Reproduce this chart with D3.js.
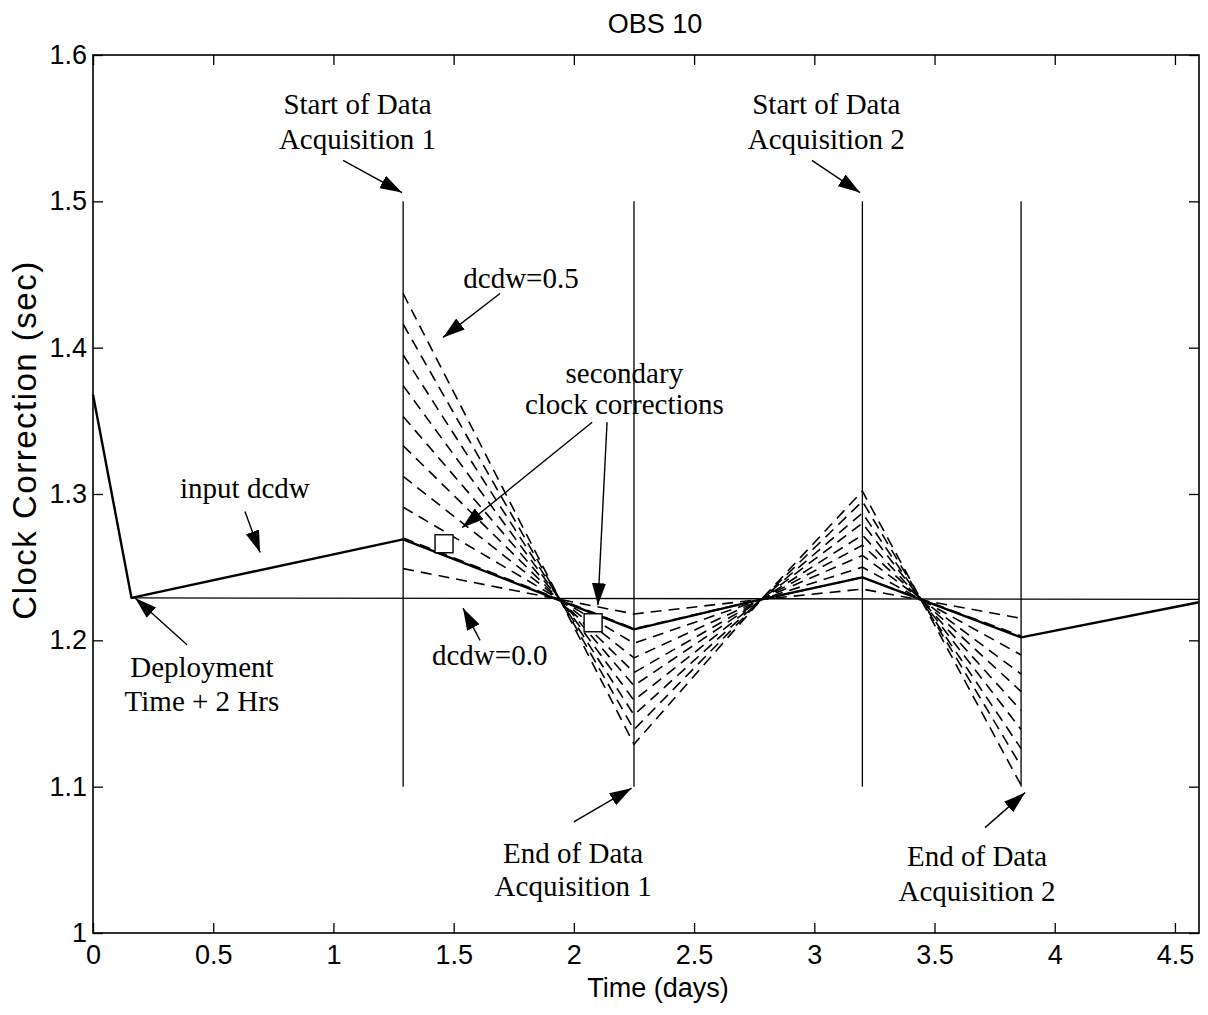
<!DOCTYPE html>
<html>
<head>
<meta charset="utf-8">
<script src="https://cdn.jsdelivr.net/npm/d3@7"></script>
<style>
  body { margin: 0; background: #fff; }
  svg { display: block; }
  .axis text { font-family: "Liberation Sans", Arial, sans-serif; font-size: 27px; fill: #000; }
  .axis line { stroke: #000; stroke-width: 1.3; }
  .axis path { display: none; }
  .note { font-family: "Liberation Serif", "Times New Roman", serif; font-size: 29px; fill: #000; }
</style>
</head>
<body>
<div id="chart"></div>
<script>
const width = 1208;
const height = 1015;
const margin = {top: 55, right: 9, bottom: 82, left: 93};

// knots of the dashed fan (days)
const fanDays = [1.29, 2.25, 2.78, 3.20, 3.86];
const dcdwLevels = [0.05, 0.10, 0.15, 0.20, 0.25, 0.30, 0.35, 0.40, 0.45, 0.50];
// clock correction of each dcdw level at each knot (sec)
const atStart1 = [1.249, 1.270, 1.291, 1.312, 1.333, 1.353, 1.374, 1.395, 1.416, 1.437];
const atEnd1 = [1.218, 1.208, 1.198, 1.188, 1.178, 1.169, 1.159, 1.149, 1.139, 1.129];
const atMiddle = [1.228, 1.228, 1.228, 1.228, 1.228, 1.228, 1.228, 1.228, 1.228, 1.228];
const atStart2 = [1.235, 1.243, 1.250, 1.258, 1.265, 1.272, 1.280, 1.287, 1.295, 1.302];
const atEnd2 = [1.215, 1.203, 1.190, 1.177, 1.165, 1.152, 1.139, 1.126, 1.114, 1.101];

// input dcdw (solid)
const inputDays = [0, 0.16, 1.29, 2.25, 2.78, 3.20, 3.86, 4.6];
const inputCorr = [1.368, 1.229, 1.269, 1.2075, 1.228, 1.243, 1.202, 1.226];

// dcdw = 0.0 (flat)
const zeroDays = [0.16, 4.6];
const zeroCorr = [1.229, 1.228];

// data acquisition windows (vertical lines)
const acqDays = [1.29, 2.25, 3.20, 3.86];
const acqRange = [1.1, 1.5];

// secondary clock corrections (squares)
const squareDays = [1.46, 2.08];
const squareCorr = [1.266, 1.212];

const xTicks = [0, 0.5, 1, 1.5, 2, 2.5, 3, 3.5, 4, 4.5];
const yTicks = [1, 1.1, 1.2, 1.3, 1.4, 1.5, 1.6];

// annotations: text lines and arrows in data units
const notes = [
  {lines: ["Start of Data", "Acquisition 1"], x: 1.10, y: [1.560, 1.536], anchor: "middle", from: [1.040, 1.528], to: [1.285, 1.506]},
  {lines: ["Start of Data", "Acquisition 2"], x: 3.05, y: [1.560, 1.536], anchor: "middle", from: [2.99, 1.528], to: [3.19, 1.506]},
  {lines: ["dcdw=0.5"], x: 1.54, y: [1.441], anchor: "start", from: [1.693, 1.437], to: [1.456, 1.407]},
  {lines: ["secondary", "clock corrections"], x: 2.21, y: [1.376, 1.355], anchor: "middle", from: [2.076, 1.349], to: [1.535, 1.277]},
  {lines: [], x: 0, y: [], anchor: "start", from: [2.138, 1.349], to: [2.100, 1.224]},
  {lines: ["input dcdw"], x: 0.362, y: [1.297], anchor: "start", from: [0.632, 1.288], to: [0.695, 1.260]},
  {lines: ["Deployment", "Time + 2 Hrs"], x: 0.453, y: [1.175, 1.152], anchor: "middle", from: [0.391, 1.197], to: [0.175, 1.229]},
  {lines: ["dcdw=0.0"], x: 1.41, y: [1.183], anchor: "start", from: [1.61, 1.200], to: [1.539, 1.222]},
  {lines: ["End of Data", "Acquisition 1"], x: 1.997, y: [1.048, 1.025], anchor: "middle", from: [2.00, 1.076], to: [2.24, 1.099]},
  {lines: ["End of Data", "Acquisition 2"], x: 3.677, y: [1.046, 1.022], anchor: "middle", from: [3.71, 1.072], to: [3.877, 1.096]}
];

const svg = d3.select('#chart').append('svg')
  .attr('width', width)
  .attr('height', height);

const x = d3.scaleLinear().domain([0, 4.6]).range([margin.left, width - margin.right]);
const y = d3.scaleLinear().domain([1, 1.6]).range([height - margin.bottom, margin.top]);

svg.append('defs').append('marker')
  .attr('id', 'head')
  .attr('viewBox', '0 0 22 14')
  .attr('refX', 22).attr('refY', 7)
  .attr('markerWidth', 22).attr('markerHeight', 14)
  .attr('markerUnits', 'userSpaceOnUse')
  .attr('orient', 'auto')
  .append('path')
  .attr('d', 'M0,0 L22,7 L0,14 Z')
  .attr('fill', '#000');

// axes, ticks inward on all four sides
svg.append('g').attr('class', 'axis')
  .attr('transform', `translate(0,${height - margin.bottom})`)
  .call(d3.axisBottom(x).tickValues(xTicks).tickSizeInner(-10).tickSizeOuter(0).tickPadding(12).tickFormat(d => String(d)));
svg.append('g').attr('class', 'axis')
  .attr('transform', `translate(0,${margin.top})`)
  .call(d3.axisTop(x).tickValues(xTicks).tickSizeInner(-10).tickSizeOuter(0).tickFormat(''));
svg.append('g').attr('class', 'axis')
  .attr('transform', `translate(${margin.left},0)`)
  .call(d3.axisLeft(y).tickValues(yTicks).tickSizeInner(-10).tickSizeOuter(0).tickPadding(6).tickFormat(d => String(d)));
svg.append('g').attr('class', 'axis')
  .attr('transform', `translate(${width - margin.right},0)`)
  .call(d3.axisRight(y).tickValues(yTicks).tickSizeInner(-10).tickSizeOuter(0).tickFormat(''));

svg.append('rect')
  .attr('x', x(0)).attr('y', y(1.6))
  .attr('width', x(4.6) - x(0)).attr('height', y(1) - y(1.6))
  .attr('fill', 'none').attr('stroke', '#000').attr('stroke-width', 1.6);

const line = d3.line().x(d => x(d[0])).y(d => y(d[1]));

// dashed fan, one polyline per dcdw level
const fanRows = [atStart1, atEnd1, atMiddle, atStart2, atEnd2];
const fan = dcdwLevels.map((lv, i) => fanDays.map((d, k) => [d, fanRows[k][i]]));
svg.append('g').selectAll('path')
  .data(fan)
  .join('path')
  .attr('d', line)
  .attr('fill', 'none')
  .attr('stroke', '#000')
  .attr('stroke-width', 1.6)
  .attr('stroke-dasharray', '11,7');

// acquisition window verticals
svg.append('g').selectAll('line')
  .data(acqDays)
  .join('line')
  .attr('x1', d => x(d)).attr('x2', d => x(d))
  .attr('y1', y(acqRange[0])).attr('y2', y(acqRange[1]))
  .attr('stroke', '#000').attr('stroke-width', 1.3);

// dcdw = 0.0
svg.append('path')
  .attr('d', line(zeroDays.map((d, i) => [d, zeroCorr[i]])))
  .attr('fill', 'none').attr('stroke', '#000').attr('stroke-width', 1.3);

// input dcdw
svg.append('path')
  .attr('d', line(inputDays.map((d, i) => [d, inputCorr[i]])))
  .attr('fill', 'none').attr('stroke', '#000').attr('stroke-width', 2.4)
  .attr('stroke-linejoin', 'round');

// secondary clock corrections
svg.append('g').selectAll('rect')
  .data(squareDays)
  .join('rect')
  .attr('x', d => x(d) - 9)
  .attr('y', (d, i) => y(squareCorr[i]) - 9)
  .attr('width', 18).attr('height', 18)
  .attr('fill', '#fff').attr('stroke', '#000').attr('stroke-width', 1.4);

// annotations
const ann = svg.append('g');
notes.forEach(n => {
  n.lines.forEach((t, j) => {
    ann.append('text').attr('class', 'note')
      .attr('x', x(n.x)).attr('y', y(n.y[j]))
      .attr('text-anchor', n.anchor)
      .text(t);
  });
  ann.append('line')
    .attr('x1', x(n.from[0])).attr('y1', y(n.from[1]))
    .attr('x2', x(n.to[0])).attr('y2', y(n.to[1]))
    .attr('stroke', '#000').attr('stroke-width', 1.4)
    .attr('marker-end', 'url(#head)');
});

// titles
svg.append('text')
  .attr('x', 655).attr('y', 33)
  .attr('text-anchor', 'middle')
  .style('font-family', '"Liberation Sans", Arial, sans-serif').style('font-size', '27px')
  .text('OBS 10');
svg.append('text')
  .attr('x', 658).attr('y', 997)
  .attr('text-anchor', 'middle')
  .style('font-family', '"Liberation Sans", Arial, sans-serif').style('font-size', '27px')
  .text('Time (days)');
svg.append('text')
  .attr('transform', 'translate(36,440) rotate(-90)')
  .attr('text-anchor', 'middle')
  .style('font-family', '"Liberation Sans", Arial, sans-serif').style('font-size', '33px')
  .style('letter-spacing', '1.5px')
  .text('Clock Correction (sec)');
</script>
</body>
</html>
